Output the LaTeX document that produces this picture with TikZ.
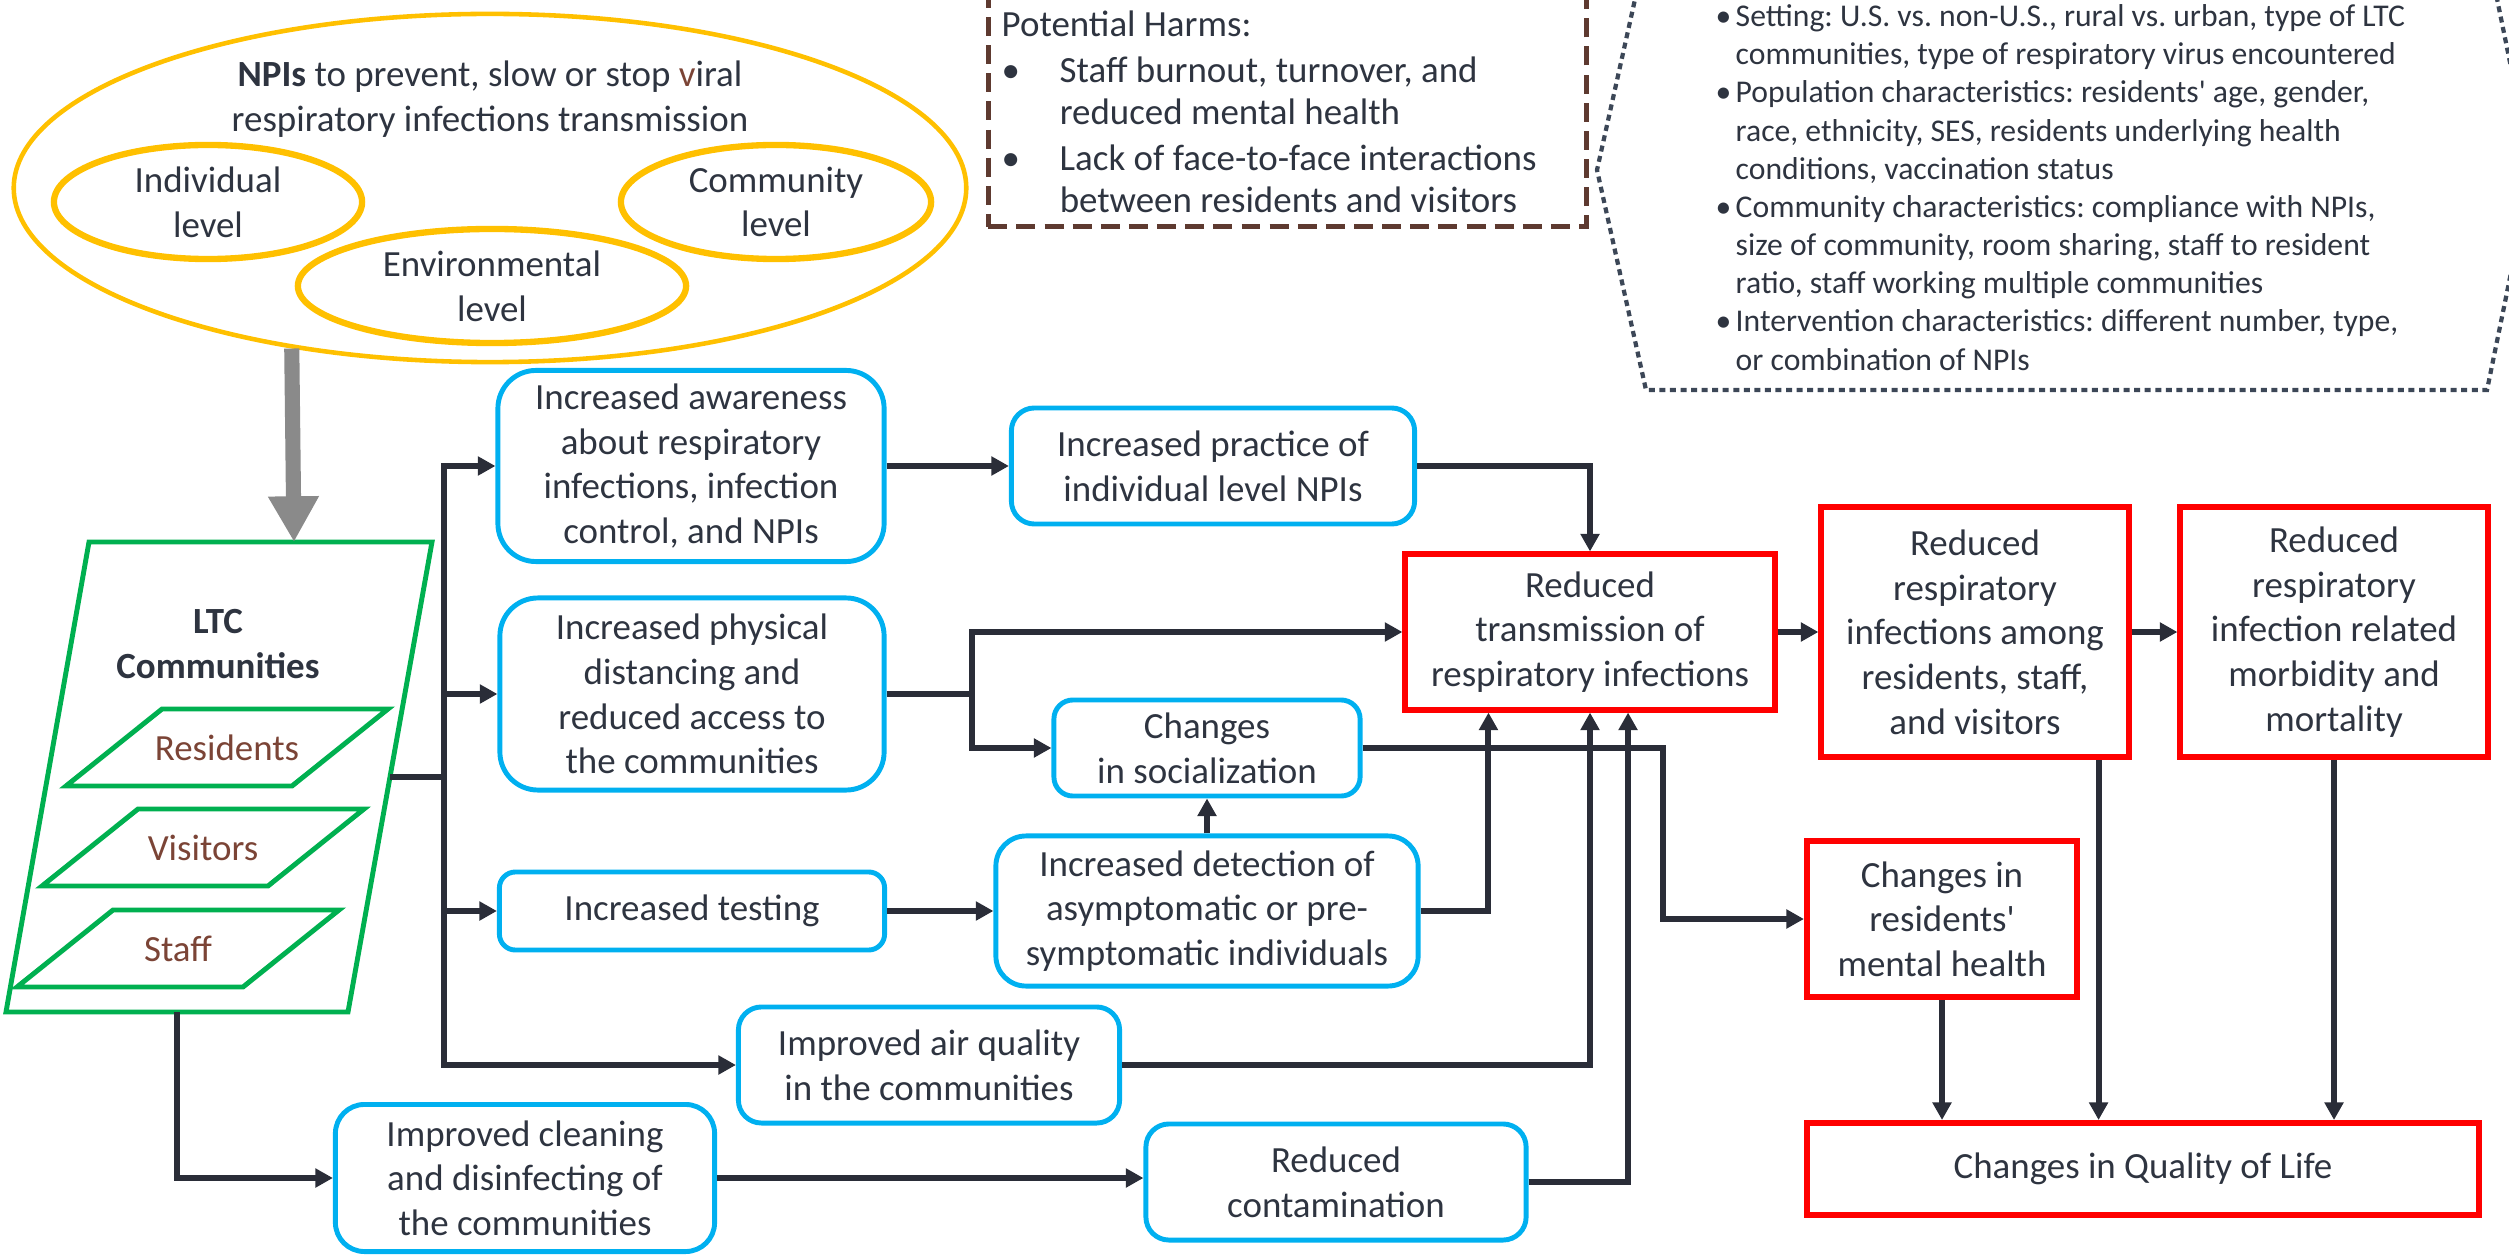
\documentclass[tikz,border=0pt]{standalone}
\usepackage{fontspec}
\setmainfont{Carlito}[Ligatures=TeXOff]
\usetikzlibrary{shapes.geometric,arrows.meta}
\frenchspacing

\definecolor{txt}{HTML}{2E3440}
\definecolor{lnk}{HTML}{2A2D38}
\definecolor{npiyel}{HTML}{FFC000}
\definecolor{ltcgrn}{HTML}{00B050}
\definecolor{boxblu}{HTML}{00B0F0}
\definecolor{outred}{HTML}{FF0000}
\definecolor{harmbr}{HTML}{5E3A30}
\definecolor{popbr}{HTML}{7B4436}
\definecolor{modgry}{HTML}{3C4757}
\definecolor{bigarr}{HTML}{8A8A8A}

\begin{document}
\begin{tikzpicture}[x=0.01cm, y=-0.01cm, text=txt,
    font=\fontsize{10.5}{12.7}\selectfont,
    arr/.style={draw=lnk, line width=1.7pt, -{Triangle[length=5pt,width=5.2pt]}},
    blubox/.style={draw=boxblu, line width=1.4pt, align=center, inner sep=2pt},
    redbox/.style={draw=outred, line width=1.7pt, align=center, inner sep=2pt},
    lvl/.style={ellipse, draw=npiyel, line width=1.8pt, align=center, inner sep=0pt},
    para/.style={draw=ltcgrn, line width=1.4pt},
    ]
    \useasboundingbox (0,0) rectangle (2509,1255);

    % NPIs and their levels
    \node [ellipse, draw=npiyel, line width=1.3pt, minimum width=9.52cm, minimum height=3.48cm](npi) at (490,188) {};
    \node [align=center](npitxt) at (490,99) {\textbf{NPIs} to prevent, slow or stop \textcolor{popbr}{v}iral\\respiratory infections transmission};
    \node [lvl, minimum width=3.08cm, minimum height=1.14cm](indiv) at (208,202) {Individual\\level};
    \node [lvl, minimum width=3.10cm, minimum height=1.14cm](commu) at (776,202) {Community\\level};
    \node [lvl, minimum width=3.88cm, minimum height=1.14cm](envir) at (492,286) {Environmental\\level};

    % potential harms
    \node [draw=harmbr, line width=1.3pt, dash pattern=on 5.4pt off 2.6pt, anchor=south west, minimum width=5.98cm, minimum height=2.8cm](harms) at (986,229) {};
    \node [anchor=north west, align=left, inner sep=0pt, font=\fontsize{10.5}{11.8}\selectfont](harmtxt) at (1001,10) {Potential Harms:\\[0.05cm]
        \makebox[0.58cm][l]{\textbullet}Staff burnout, turnover, and\\
        \hspace*{0.58cm}reduced mental health\\[0.05cm]
        \makebox[0.58cm][l]{\textbullet}Lack of face-to-face interactions\\
        \hspace*{0.58cm}between residents and visitors};

    % moderators
    \draw [draw=modgry, line width=1.2pt, dash pattern=on 1.7pt off 1.3pt] (1646,-50) -- (1597,170) -- (1646,390) -- (2487,390) -- (2532,170) -- (2487,-50) -- cycle;
    \node [anchor=north west, align=left, inner sep=0pt, font=\fontsize{9}{10.85}\selectfont](modtxt) at (1715,4) {\makebox[0.2cm][l]{\textbullet}Setting: U.S. vs. non-U.S., rural vs. urban, type of LTC\\
        \hspace*{0.2cm}communities, type of respiratory virus encountered\\
        \makebox[0.2cm][l]{\textbullet}Population characteristics: residents' age, gender,\\
        \hspace*{0.2cm}race, ethnicity, SES, residents underlying health\\
        \hspace*{0.2cm}conditions, vaccination status\\
        \makebox[0.2cm][l]{\textbullet}Community characteristics: compliance with NPIs,\\
        \hspace*{0.2cm}size of community, room sharing, staff to resident\\
        \hspace*{0.2cm}ratio, staff working multiple communities\\
        \makebox[0.2cm][l]{\textbullet}Intervention characteristics: different number, type,\\
        \hspace*{0.2cm}or combination of NPIs};

    % LTC communities
    \draw [para] (89,542) -- (432,542) -- (348,1012) -- (6,1012) -- cycle;
    \node [align=center, font=\fontsize{10.5}{12.7}\selectfont\bfseries](ltc) at (218,644) {LTC\\Communities};
    \foreach \grp/\gx/\gy in {Residents/162/709, Visitors/138/809, Staff/113/910} {
        \draw [para] (\gx,\gy) -- ++(226,0) -- ++(-96,77) -- ++(-226,0) -- cycle;
        \node [text=popbr](\grp) at (\gx+65,\gy+38.5) {\grp};
    }
    \coordinate (ltcT) at (294,542);
    \coordinate (ltcR) at (390,777);
    \coordinate (ltcB) at (177,1012);
    \coordinate (fork) at (444,777);
    \coordinate (dfork) at (972,694);

    \draw [draw=bigarr, line width=4.3pt, -{Triangle[length=13pt,width=13.6pt]}] (npi.219) -- (ltcT);

    % mechanisms
    \node [blubox, rounded corners=0.38cm, minimum width=3.86cm, minimum height=1.91cm](aware) at (691,466) {Increased awareness\\about respiratory\\infections, infection\\control, and NPIs};
    \node [blubox, rounded corners=0.23cm, minimum width=4.03cm, minimum height=1.16cm](practice) at (1213,466) {Increased practice of\\individual level NPIs};
    \node [blubox, rounded corners=0.38cm, minimum width=3.84cm, minimum height=1.92cm](distan) at (692,694) {Increased physical\\distancing and\\reduced access to\\the communities};
    \node [blubox, rounded corners=0.19cm, minimum width=3.06cm, minimum height=0.96cm](social) at (1207,748) {Changes\\in socialization};
    \node [blubox, rounded corners=0.16cm, minimum width=3.85cm, minimum height=0.78cm](testing) at (692,911) {Increased testing};
    \node [blubox, rounded corners=0.3cm, minimum width=4.22cm, minimum height=1.5cm](detect) at (1207,911) {Increased detection of\\asymptomatic or pre-\\symptomatic individuals};
    \node [blubox, rounded corners=0.23cm, minimum width=3.81cm, minimum height=1.16cm](airq) at (929,1065) {Improved air quality\\in the communities};
    \node [blubox, rounded corners=0.29cm, minimum width=3.79cm, minimum height=1.47cm](clean) at (525,1178) {Improved cleaning\\and disinfecting of\\the communities};
    \node [blubox, rounded corners=0.23cm, minimum width=3.80cm, minimum height=1.16cm](contam) at (1336,1182) {Reduced\\contamination};

    % outcomes
    \node [redbox, minimum width=3.69cm, minimum height=1.55cm](transm) at (1590,632) {Reduced\\transmission of\\respiratory infections};
    \node [redbox, minimum width=3.07cm, minimum height=2.5cm](infect) at (1975,632) {Reduced\\respiratory\\infections among\\residents, staff,\\and visitors};
    \node [redbox, minimum width=3.07cm, minimum height=2.5cm](morbid) at (2334,632) {Reduced\\respiratory\\infection related\\morbidity and\\mortality};
    \node [redbox, minimum width=2.70cm, minimum height=1.56cm](mental) at (1942,919) {Changes in\\residents'\\mental health};
    \node [redbox, minimum width=6.72cm, minimum height=0.92cm](qol) at (2143,1169) {Changes in Quality of Life};
    \coordinate (ifo) at ([xshift=-0.33cm]infect.south east);

    \draw [arr] (ltcR) -- (fork) |- (aware);
    \draw [arr] (fork) |- (distan);
    \draw [arr] (fork) |- (testing);
    \draw [arr] (fork) |- (airq);
    \draw [arr] (ltcB) |- (clean);

    \draw [arr] (aware) -- (practice);
    \draw [arr] (practice) -| (transm);
    \draw [arr] (distan) -- (dfork) |- (transm);
    \draw [arr] (dfork) |- (social);
    \draw [arr] (testing) -- (detect);
    \draw [arr] (detect) -- (social);
    \draw [arr] (detect) -| ([xshift=0.86cm]transm.south west);
    \draw [arr] (airq) -| (transm);
    \draw [arr] (contam) -| ([xshift=0.38cm]transm.south);
    \draw [arr] (clean) -- (clean -| contam.west);
    \draw [arr] (social.east) -- ++(300,0) |- (mental);

    \draw [arr] (transm) -- (infect);
    \draw [arr] (infect) -- (morbid);
    \draw [arr] (mental) -- (mental |- qol.north);
    \draw [arr] (ifo) -- (ifo |- qol.north);
    \draw [arr] (morbid) -- (morbid |- qol.north);
\end{tikzpicture}
\end{document}
